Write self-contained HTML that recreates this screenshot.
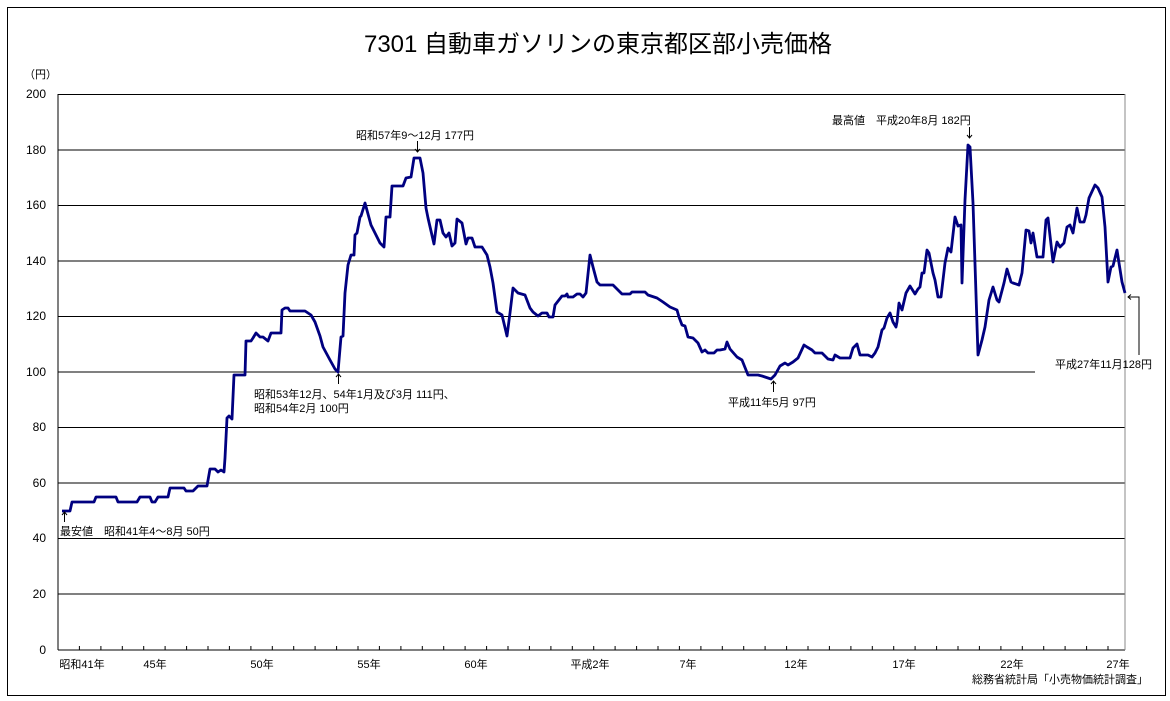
<!DOCTYPE html>
<html><head><meta charset="utf-8"><style>
html,body{margin:0;padding:0;background:#fff;}
svg{display:block;font-family:"Liberation Sans","Noto Sans CJK JP",sans-serif;}
</style></head><body>
<svg width="1170" height="701" viewBox="0 0 1170 701" xmlns="http://www.w3.org/2000/svg">
<rect x="7.5" y="7.5" width="1158" height="688" fill="#fff" stroke="#000" stroke-width="1"/>
<text x="598" y="52" font-size="24" text-anchor="middle" fill="#000">7301 自動車ガソリンの東京都区部小売価格</text>
<text x="24" y="78" font-size="11">（円）</text>
<g stroke="#000" stroke-width="1">
<line x1="58" y1="94.5" x2="1125" y2="94.5"/>
<line x1="58" y1="150" x2="1125" y2="150"/>
<line x1="58" y1="205.5" x2="1125" y2="205.5"/>
<line x1="58" y1="261" x2="1125" y2="261"/>
<line x1="58" y1="316.5" x2="1125" y2="316.5"/>
<line x1="58" y1="372" x2="1035" y2="372"/>
<line x1="58" y1="427.5" x2="1125" y2="427.5"/>
<line x1="58" y1="483" x2="1125" y2="483"/>
<line x1="58" y1="538.5" x2="1125" y2="538.5"/>
<line x1="58" y1="594" x2="1125" y2="594"/>
<line x1="58" y1="650" x2="1125" y2="650"/>
<line x1="58" y1="94" x2="58" y2="650"/>
</g>
<line x1="1125" y1="94" x2="1125" y2="650" stroke="#888" stroke-width="1"/>
<g font-size="12" text-anchor="end">
<text x="46" y="98">200</text><text x="46" y="154">180</text><text x="46" y="209">160</text>
<text x="46" y="265">140</text><text x="46" y="320">120</text><text x="46" y="376">100</text>
<text x="46" y="431">80</text><text x="46" y="487">60</text><text x="46" y="542">40</text>
<text x="46" y="598">20</text><text x="46" y="654">0</text>
</g>
<g font-size="11" text-anchor="middle">
<text x="82" y="668">昭和41年</text><text x="155" y="668">45年</text><text x="262" y="668">50年</text>
<text x="369" y="668">55年</text><text x="476" y="668">60年</text><text x="590" y="668">平成2年</text>
<text x="688" y="668">7年</text><text x="796" y="668">12年</text><text x="904" y="668">17年</text>
<text x="1012" y="668">22年</text><text x="1118" y="668">27年</text>
</g>
<text x="1148" y="683" font-size="11" text-anchor="end">総務省統計局「小売物価統計調査」</text>
<polyline fill="none" stroke="#000080" stroke-width="2.8" stroke-linejoin="round" points="
62,511 70,511 72,502 94,502 96,497 116,497 118,502 137,502 140,497 150,497 152,502 155,502 158,497 168,497 170,488 184,488 186,491 193,491 198,486 207,486 210,469 215,469 218,472 221,470 224,472 225,458 227,418 229,416 232,419 234,375 245,375 246,341 251,341 253,338 256,333 260,337 263,337 268,341 271,333 281,333 282,310 285,308 288,308 290,311 305,311 311,315 315,322 320,336 323,347 330,360 335,369 338,372 341,337 343,336 345,293 348,265 351,255 354,255 355,235 357,233 360,217 361,216 365,203 371,225 375,233 380,243 384,247 386,217 390,217 392,186 403,186 406,178 411,177 414,158 420,158 423,173 426,208 428,218 434,244 437,220 440,220 443,233 446,237 449,233 452,246 455,243 457,219 462,223 466,244 468,238 472,238 475,247 482,247 487,255 490,267 493,283 497,312 502,315 507,336 510,313 513,288 518,293 525,295 530,308 533,312 538,316 542,313 547,313 549,317 553,317 555,305 562,296 565,296 567,294 568,297 573,297 577,294 580,294 583,297 586,293 590,255 593,267 597,282 600,285 613,285 618,290 622,294 630,294 632,292 645,292 648,295 657,298 663,302 670,307 677,310 679,317 682,325 685,326 688,337 693,338 698,343 702,352 705,350 708,353 714,353 717,350 720,350 725,349 727,342 730,349 737,357 742,360 748,375 758,375 762,376 765,377 771,379 775,375 780,366 785,363 788,365 793,362 798,358 804,345 807,347 812,350 815,353 822,353 828,359 833,360 835,355 840,358 850,358 853,348 857,344 860,355 868,355 872,357 875,353 878,347 882,330 884,328 887,318 890,313 893,322 896,327 897,322 899,303 902,310 906,293 910,286 915,294 918,289 920,287 922,273 924,273 927,250 929,253 933,273 935,280 938,297 941,297 945,263 948,248 951,252 955,217 958,226 961,225 962,283 965,200 968,145 970,147 973,203 978,355 982,340 985,327 989,300 993,287 997,300 999,302 1004,283 1007,269 1011,282 1013,283 1019,285 1022,273 1026,230 1029,231 1031,243 1033,233 1037,257 1043,257 1046,220 1048,218 1053,262 1057,242 1060,247 1064,243 1067,227 1070,225 1073,233 1077,208 1080,222 1084,222 1086,215 1089,198 1095,185 1098,188 1102,197 1105,227 1108,282 1111,267 1113,266 1117,250 1119,263 1122,282 1125,293"/>
<g font-size="11" fill="#000">
<text x="60" y="535">最安値　昭和41年4～8月 50円</text>
<text x="254" y="398">昭和53年12月、54年1月及び3月 111円、</text>
<text x="254" y="412">昭和54年2月 100円</text>
<text x="356" y="139">昭和57年9～12月 177円</text>
<text x="728" y="406">平成11年5月 97円</text>
<text x="832" y="124">最高値　平成20年8月 182円</text>
<text x="1055" y="368">平成27年11月128円</text>
</g>
<g stroke="#000" stroke-width="1" fill="none">
<line x1="64.5" y1="512" x2="64.5" y2="522"/><path d="M62,515 L64.5,512 L67,515"/>
<line x1="338.5" y1="374" x2="338.5" y2="384"/><path d="M336,377 L338.5,374 L341,377"/>
<line x1="417.5" y1="141" x2="417.5" y2="152"/><path d="M415,149 L417.5,152 L420,149"/>
<line x1="773.5" y1="381" x2="773.5" y2="392"/><path d="M771,384 L773.5,381 L776,384"/>
<line x1="969.5" y1="127" x2="969.5" y2="138"/><path d="M967,135 L969.5,138 L972,135"/>
<path d="M1139,355 L1139,297 L1128,297"/><path d="M1131,294.5 L1128,297 L1131,299.5"/>
</g>
<g stroke="#000" stroke-width="1">
<path d="M79.4,650V646M100.9,650V646M122.3,650V646M143.7,650V646M165.1,650V646M186.6,650V646M208,650V646M229.4,650V646M250.9,650V646M272.3,650V646M293.7,650V646M315.1,650V646M336.6,650V646M358,650V646M379.4,650V646M400.9,650V646M422.3,650V646M443.7,650V646M465.1,650V646M486.6,650V646M508,650V646M529.4,650V646M550.9,650V646M572.3,650V646M593.7,650V646M615.1,650V646M636.6,650V646M658,650V646M679.4,650V646M700.9,650V646M722.3,650V646M743.7,650V646M765.1,650V646M786.6,650V646M808,650V646M829.4,650V646M850.9,650V646M872.3,650V646M893.7,650V646M915.1,650V646M936.6,650V646M958,650V646M979.4,650V646M1000.9,650V646M1022.3,650V646M1043.7,650V646M1065.1,650V646M1086.6,650V646M1108,650V646"/>
</g>
</svg>
</body></html>
